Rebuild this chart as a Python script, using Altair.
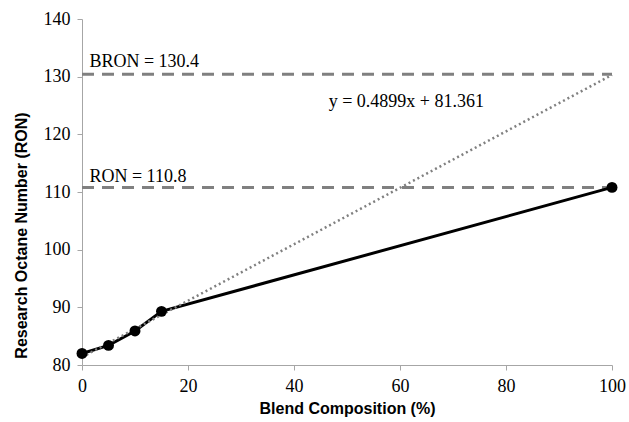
import altair as alt
import pandas as pd

# Data
blend_pct = [0, 5, 10, 15, 100]
ron_values = [82.0, 83.4, 85.9, 89.3, 110.8]

trend_x = [0, 100]
trend_y = [81.36, 130.3]

ref_values = [130.4, 110.8]
ref_labels = ["BRON = 130.4", "RON = 110.8"]
ref_label_y = [131.7, 111.8]
ref_label_x = [1.4, 1.4]

eq_text = ["y = 0.4899x + 81.361"]
eq_x = [61.2]
eq_y = [124.8]

data = pd.DataFrame({"x": blend_pct, "y": ron_values})
trend = pd.DataFrame({"x": trend_x, "y": trend_y})
refs = pd.DataFrame({"x": [0, 0], "x2": [100, 100], "y": ref_values})
ref_txt = pd.DataFrame({"x": ref_label_x, "y": ref_label_y, "t": ref_labels})
eq = pd.DataFrame({"x": eq_x, "y": eq_y, "t": eq_text})

serif = "'Times New Roman', 'Liberation Serif', serif"
sans = "'Liberation Sans Narrow', 'Arial Narrow', 'Liberation Sans', Arial, sans-serif"
grey = "#808080"

xscale = alt.Scale(domain=[0, 100], nice=False, zero=False)
yscale = alt.Scale(domain=[80, 140], nice=False, zero=False)

xaxis = alt.Axis(values=[0, 20, 40, 60, 80, 100], title="Blend Composition (%)",
                 grid=False, domainColor="#a6a6a6", tickColor="#a6a6a6", tickSize=5,
                 labelFlush=False, labelOverlap=False,
                 labelFont=serif, labelFontSize=18, labelColor="#000000", labelPadding=7,
                 titleFont=sans, titleFontSize=16, titleFontWeight="bold",
                 titleColor="#000000", titlePadding=5)
yaxis = alt.Axis(values=[80, 90, 100, 110, 120, 130, 140], title="Research Octane Number (RON)",
                 grid=False, domainColor="#a6a6a6", tickColor="#a6a6a6", tickSize=5,
                 labelFlush=False, labelOverlap=False,
                 labelFont=serif, labelFontSize=18, labelColor="#000000", labelPadding=7,
                 titleFont=sans, titleFontSize=16, titleFontWeight="bold",
                 titleColor="#000000", titlePadding=14, titleY=216)

base_x = alt.X("x:Q", scale=xscale, axis=xaxis)
base_y = alt.Y("y:Q", scale=yscale, axis=yaxis)

ref_rules = alt.Chart(refs).mark_rule(color=grey, strokeWidth=3, strokeDash=[12, 8]).encode(
    x=base_x, x2="x2:Q", y=base_y)

trend_line = alt.Chart(trend).mark_line(color=grey, strokeWidth=2.5, strokeDash=[2, 3]).encode(
    x=base_x, y=base_y)

data_line = alt.Chart(data).mark_line(color="#000000", strokeWidth=3).encode(x=base_x, y=base_y)
data_pts = alt.Chart(data).mark_point(filled=True, color="#000000", size=120, opacity=1).encode(
    x=base_x, y=base_y)

ref_text = alt.Chart(ref_txt).mark_text(font=serif, fontSize=18, align="left", baseline="alphabetic",
                                        color="#000000").encode(x=base_x, y=base_y, text="t:N")
eq_mark = alt.Chart(eq).mark_text(font=serif, fontSize=18, align="center", baseline="alphabetic",
                                  color="#000000").encode(x=base_x, y=base_y, text="t:N")

chart = alt.layer(ref_rules, data_line, trend_line, data_pts, ref_text, eq_mark).properties(
    width=530, height=346,
    autosize=alt.AutoSizeParams(type="none"),
    padding={"left": 82, "top": 19, "right": 17, "bottom": 57},
    background="#ffffff",
).configure_view(stroke=None)

chart.save("out.html", embed_options={"renderer": "svg", "actions": False})
